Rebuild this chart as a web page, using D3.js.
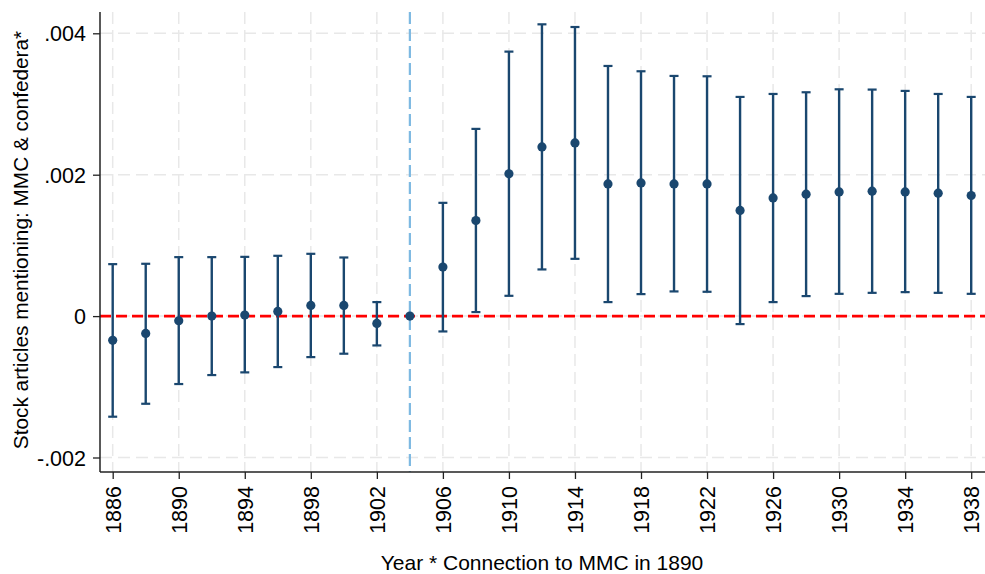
<!DOCTYPE html>
<html><head><meta charset="utf-8">
<script src="https://cdn.jsdelivr.net/npm/d3@7"></script>
<style>body{margin:0;background:#fff}svg{display:block}text{font-family:"Liberation Sans",Arial,Helvetica,sans-serif;fill:#000}</style>
</head><body>
<script>
const years = [1886,1888,1890,1892,1894,1896,1898,1900,1902,1904,1906,1908,1910,1912,1914,1916,1918,1920,1922,1924,1926,1928,1930,1932,1934,1936,1938];
const coef  = [-0.000343,-0.000245,-0.000066,0.000000,0.000014,0.000066,0.000151,0.000151,-0.000104,0,0.000693,0.001352,0.002012,0.002393,0.002450,0.001870,0.001884,0.001870,0.001870,0.001494,0.001672,0.001724,0.001757,0.001767,0.001757,0.001739,0.001706];
const upper = [0.000735,0.000740,0.000834,0.000834,0.000838,0.000853,0.000881,0.000829,0.000198,null,0.001602,0.002648,0.003741,0.004127,0.004089,0.003538,0.003463,0.003397,0.003392,0.003100,0.003142,0.003166,0.003208,0.003204,0.003185,0.003142,0.003100];
const lower = [-0.001423,-0.001240,-0.000961,-0.000834,-0.000796,-0.000721,-0.000580,-0.000532,-0.000415,null,-0.000217,0.000057,0.000287,0.000660,0.000810,0.000198,0.000311,0.000349,0.000344,-0.000113,0.000198,0.000283,0.000315,0.000329,0.000339,0.000329,0.000315];
const xTicks = [1886,1890,1894,1898,1902,1906,1910,1914,1918,1922,1926,1930,1934,1938];
const yTicks = [-0.002,0,0.002,0.004];
const yTickLabels = ["-.002","0",".002",".004"];
const refYear = 1904;
const xTitle = "Year * Connection to MMC in 1890";
const yTitle = "Stock articles mentioning: MMC & confedera*";

const W=985,H=574;
const svg=d3.select("body").append("svg").attr("width",W).attr("height",H);
const L=100,T=12,B=472,R=985;
const x=d3.scaleLinear().domain([1886,1938]).range([112.7,971.2]);
const y=d3.scaleLinear().domain([-0.002,0.004]).range([457.5,33.3]);
const navy="#1a476f";

// grid
const g=svg.append("g");
g.selectAll("line.hg").data(yTicks).join("line")
 .attr("x1",L).attr("x2",R).attr("y1",d=>y(d)).attr("y2",d=>y(d))
 .attr("stroke","#e8e8e8").attr("stroke-width",1.5).attr("stroke-dasharray","12,6");
g.selectAll("line.vg").data(xTicks).join("line")
 .attr("x1",d=>x(d)).attr("x2",d=>x(d)).attr("y1",T).attr("y2",B)
 .attr("stroke","#e8e8e8").attr("stroke-width",1.5).attr("stroke-dasharray","12,6");

// reference lines
svg.append("line").attr("x1",x(refYear)).attr("x2",x(refYear)).attr("y1",T).attr("y2",B)
 .attr("stroke","#7db9e2").attr("stroke-width",2.2).attr("stroke-dasharray","12,5");
svg.append("line").attr("x1",L).attr("x2",R).attr("y1",y(0)).attr("y2",y(0))
 .attr("stroke","#ff0000").attr("stroke-width",2.8).attr("stroke-dasharray","11,5");

// axes
const xa=svg.append("g").attr("transform",`translate(0,${B})`)
 .call(d3.axisBottom(x).tickValues(xTicks).tickFormat(d3.format("d")).tickSize(7).tickSizeOuter(0));
xa.select(".domain").attr("d",`M${L},0H${R}`).attr("stroke","#222").attr("stroke-width",1.5);
xa.selectAll(".tick line").attr("stroke","#222").attr("stroke-width",1.3);
xa.selectAll(".tick text").attr("font-size",21.5).attr("transform","rotate(-90)")
 .attr("text-anchor","end").attr("x",-14).attr("y",0).attr("dy","0.36em");

const ya=svg.append("g").attr("transform",`translate(${L},0)`)
 .call(d3.axisLeft(y).tickValues(yTicks).tickFormat((d,i)=>yTickLabels[i]).tickSize(7).tickSizeOuter(0));
ya.select(".domain").attr("d",`M0,${T}V${B}`).attr("stroke","#222").attr("stroke-width",1.5);
ya.selectAll(".tick line").attr("stroke","#222").attr("stroke-width",1.3);
ya.selectAll(".tick text").attr("font-size",21.5).attr("x",-14).attr("dy","0.35em");

// error bars
const data=years.map((yr,i)=>({yr,c:coef[i],u:upper[i],l:lower[i]}));
const eb=data.filter(d=>d.u!==null);
svg.selectAll("line.eb").data(eb).join("line")
 .attr("x1",d=>x(d.yr)).attr("x2",d=>x(d.yr)).attr("y1",d=>y(d.u)).attr("y2",d=>y(d.l))
 .attr("stroke",navy).attr("stroke-width",2.4);
svg.selectAll("line.cu").data(eb).join("line")
 .attr("x1",d=>x(d.yr)-4.5).attr("x2",d=>x(d.yr)+4.5).attr("y1",d=>y(d.u)).attr("y2",d=>y(d.u))
 .attr("stroke",navy).attr("stroke-width",2.2);
svg.selectAll("line.cl").data(eb).join("line")
 .attr("x1",d=>x(d.yr)-4.5).attr("x2",d=>x(d.yr)+4.5).attr("y1",d=>y(d.l)).attr("y2",d=>y(d.l))
 .attr("stroke",navy).attr("stroke-width",2.2);
svg.selectAll("circle.pt").data(data).join("circle")
 .attr("cx",d=>x(d.yr)).attr("cy",d=>y(d.c)).attr("r",4.6).attr("fill",navy);

// titles
svg.append("text").attr("x",542).attr("y",570).attr("text-anchor","middle").attr("font-size",21).text(xTitle);
svg.append("text").attr("transform","translate(28,240) rotate(-90)").attr("text-anchor","middle").attr("font-size",20.8).text(yTitle);
</script>
</body></html>
